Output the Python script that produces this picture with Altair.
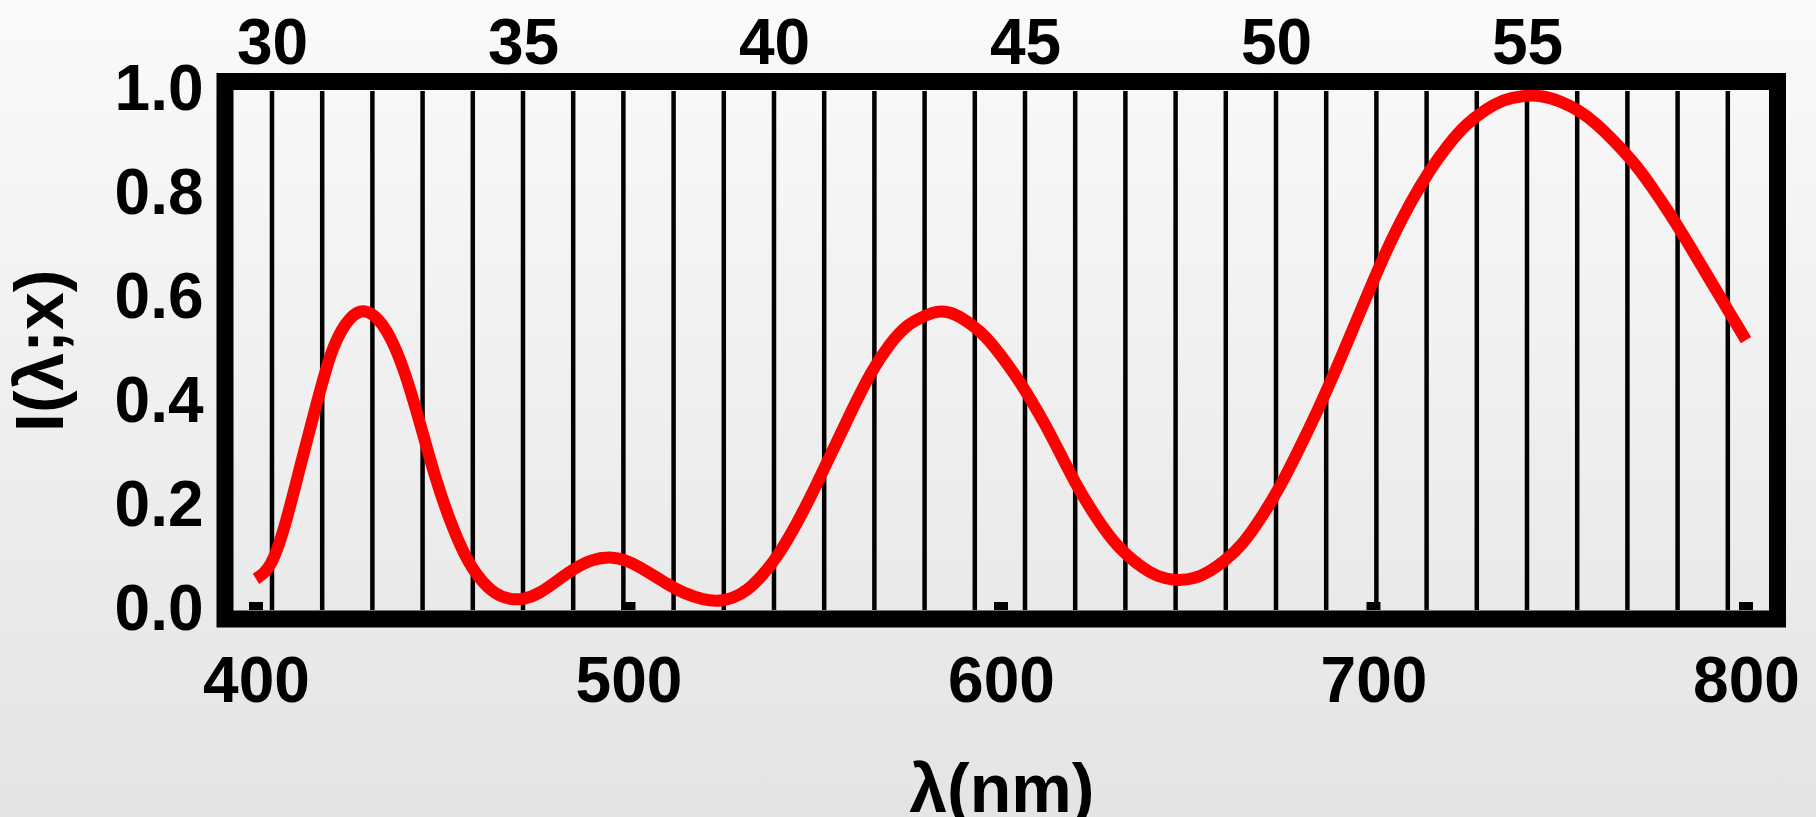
import altair as alt
import pandas as pd

# ---- data ----
wavelength_nm = [400, 404, 408, 412, 416, 420, 424, 428, 432, 436, 440, 444, 448, 452, 456, 460,
                 464, 468, 472, 476, 480, 485, 490, 495, 500, 505, 510, 515, 520, 524, 528, 532,
                 536, 540, 545, 550, 555, 560, 565, 570, 575, 580, 584, 588, 592, 596, 600, 604,
                 608, 612, 616, 620, 625, 630, 634, 638, 642, 647, 652, 656, 660, 665, 670, 675,
                 680, 685, 690, 695, 700, 705, 710, 715, 720, 725, 730, 735, 740, 745, 750, 755,
                 760, 765, 770, 775, 780, 785, 790, 795, 800]
intensity = [0.06, 0.09, 0.17, 0.28, 0.39, 0.49, 0.55, 0.575, 0.565, 0.525, 0.455, 0.36, 0.26,
             0.175, 0.108, 0.062, 0.034, 0.022, 0.022, 0.033, 0.052, 0.077, 0.095, 0.101, 0.093,
             0.074, 0.052, 0.033, 0.021, 0.018, 0.024, 0.04, 0.068, 0.105, 0.165, 0.235, 0.31,
             0.385, 0.455, 0.51, 0.548, 0.568, 0.575, 0.568, 0.55, 0.525, 0.49, 0.45, 0.405, 0.355,
             0.30, 0.245, 0.185, 0.135, 0.105, 0.082, 0.066, 0.058, 0.062, 0.075, 0.095, 0.13,
             0.18, 0.24, 0.31, 0.385, 0.465, 0.55, 0.635, 0.715, 0.785, 0.845, 0.895, 0.935, 0.963,
             0.982, 0.99, 0.99, 0.98, 0.962, 0.935, 0.90, 0.86, 0.812, 0.758, 0.70, 0.64, 0.58,
             0.52]
top_line_positions = list(range(30, 60))
top_tick_labels = [30, 35, 40, 45, 50, 55]
bottom_tick_labels = [400, 500, 600, 700, 800]
y_tick_labels = [0.0, 0.2, 0.4, 0.6, 0.8, 1.0]

# ---- layout ----
W, H = 1552.5, 537.5
lam_dom = [391.68, 808.46]
top_dom = [29.064, 59.99]
y_dom = [-0.01734, 1.0183]
FONT = "Liberation Sans"
LFS = 64

curve_df = pd.DataFrame({"lam": wavelength_nm, "I": intensity})
lines_df = pd.DataFrame({"xn": top_line_positions})
sq_df = pd.DataFrame({"lam": bottom_tick_labels})
one = pd.DataFrame({"a": [0]})

grad = alt.LinearGradient(
    gradient="linear",
    stops=[alt.GradientStop(color="#fafafa", offset=0), alt.GradientStop(color="#e4e4e4", offset=1)],
    x1=0, x2=0, y1=0, y2=1,
)

bg = alt.Chart(one).mark_rect(fill=grad).encode(
    x=alt.value(-225), x2=alt.value(1591), y=alt.value(-81.5), y2=alt.value(735.5)
)

common_axis = dict(labelFont=FONT, labelFontSize=LFS, labelFontWeight="bold", labelColor="black",
                   ticks=False, tickSize=0, domain=False, grid=False, zindex=1, labelFlush=False,
                   labelOverlap=False)

vlines = alt.Chart(lines_df).mark_rule(color="black", strokeWidth=4.5).encode(
    x=alt.X("xn:Q", scale=alt.Scale(domain=top_dom, nice=False, zero=False),
            axis=alt.Axis(orient="top", values=top_tick_labels, title=None, labelPadding=5,
                          **common_axis)),
    y=alt.datum(0), y2=alt.datum(1),
)

curve = alt.Chart(curve_df).mark_line(color="#ff0000", strokeWidth=12, interpolate="natural").encode(
    x=alt.X("lam:Q", scale=alt.Scale(domain=lam_dom, nice=False, zero=False),
            axis=alt.Axis(orient="bottom", values=bottom_tick_labels, title="λ(nm)", labelPadding=31,
                          titleFont=FONT, titleFontSize=68, titleFontWeight="bold", titleColor="black",
                          titleBaseline="alphabetic", titleY=192.5, **common_axis)),
    y=alt.Y("I:Q", scale=alt.Scale(domain=y_dom, nice=False, zero=False),
            axis=alt.Axis(orient="left", values=y_tick_labels, format=".1f", title="I(λ;x)",
                          labelPadding=22, titleFont=FONT, titleFontSize=68, titleFontWeight="bold",
                          titleColor="black", titleAngle=270, titleAlign="center",
                          titleBaseline="middle", titleX=-183, titleY=268.75, **common_axis)),
)

squares = alt.Chart(sq_df).mark_rule(color="black", strokeWidth=14).encode(
    x=alt.X("lam:Q", scale=alt.Scale(domain=lam_dom, nice=False, zero=False), axis=None),
    y=alt.datum(0), y2=alt.datum(0.0154),
)

frame = alt.Chart(one).mark_rect(fillOpacity=0, stroke="black", strokeWidth=17).encode(
    x=alt.value(0), x2=alt.value(W), y=alt.value(0), y2=alt.value(H)
)

chart = alt.layer(bg, vlines, curve, squares, frame).resolve_scale(x="independent").properties(
    width=W, height=H,
    autosize=alt.AutoSizeParams(type="none"),
    padding={"left": 225, "top": 81.5, "right": 38.5, "bottom": 198},
).configure_view(stroke=None)

chart.save("out.html", embed_options={"renderer": "svg", "actions": False})
